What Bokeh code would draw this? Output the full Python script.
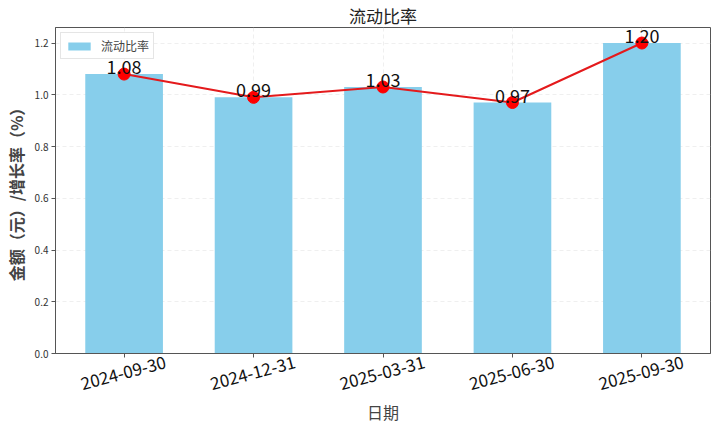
from bokeh.plotting import figure
from bokeh.models import ColumnDataSource, Range1d, FixedTicker, Legend, LegendItem, LinearAxis
from bokeh.core.properties import value
from bokeh.embed import file_html
from bokeh.resources import INLINE

dates = ["2024-09-30", "2024-12-31", "2025-03-31", "2025-06-30", "2025-09-30"]
ratios = [1.08, 0.99, 1.03, 0.97, 1.20]
y_ticks = [0.0, 0.2, 0.4, 0.6, 0.8, 1.0, 1.2]

FONT = "Noto Sans CJK SC"
xs = list(range(len(dates)))
labels = ["%.2f" % v for v in ratios]
src = ColumnDataSource(dict(x=xs, y=ratios, lab=labels))

X0, X1 = -0.53, 4.53
SHIFT = 0.32  # moves the right-anchored rotated date labels so they sit centred under each tick

p = figure(frame_width=655, frame_height=326, output_backend="svg", toolbar_location=None,
           x_range=Range1d(X0, X1), y_range=Range1d(0, 1.26),
           min_border_left=30, min_border_right=4, min_border_top=0, min_border_bottom=4)
p.extra_x_ranges = {"lab": Range1d(X0 - SHIFT, X1 - SHIFT)}

p.title.text = "流动比率"
p.title.align = "center"
p.title.text_font = FONT
p.title.text_font_size = "17px"
p.title.text_font_style = "normal"
p.title.text_color = "#222222"
p.title.standoff = 0
p.title.offset = 0

bars = p.vbar(x="x", top="y", width=0.6, source=src, color="#87CEEB", line_color=None)
p.line(x="x", y="y", source=src, line_color="#e41a1c", line_width=2)
p.scatter(x="x", y="y", source=src, size=12, color="#ff0000", line_color="#ff0000")
p.text(x="x", y="y", text="lab", source=src, text_align="center", text_baseline="bottom",
       text_font=value(FONT), text_font_size="18px", text_color="#111111", y_offset=0)

# main x axis: ticks only
p.xaxis.ticker = FixedTicker(ticks=xs)
p.xaxis.major_label_overrides = {i: " " for i in xs}
p.xaxis.major_label_text_font_size = "1px"
p.xaxis.major_label_standoff = 0
p.xaxis.minor_tick_line_color = None

# date label axis
lab_axis = LinearAxis(x_range_name="lab", ticker=FixedTicker(ticks=xs))
lab_axis.major_label_overrides = {i: d for i, d in enumerate(dates)}
lab_axis.major_label_orientation = 0.26
lab_axis.major_label_text_font = FONT
lab_axis.major_label_text_font_size = "17px"
lab_axis.major_label_text_color = "#111111"
lab_axis.major_label_standoff = 0
lab_axis.axis_line_color = None
lab_axis.major_tick_line_color = None
lab_axis.minor_tick_line_color = None
lab_axis.major_tick_out = 0
lab_axis.axis_label = "日期"
lab_axis.axis_label_text_font = FONT
lab_axis.axis_label_text_font_size = "16px"
lab_axis.axis_label_text_font_style = "normal"
lab_axis.axis_label_standoff = 0
p.add_layout(lab_axis, "below")

p.yaxis.ticker = FixedTicker(ticks=y_ticks)
p.yaxis.major_label_overrides = {t: "%.1f" % t for t in y_ticks}
p.yaxis.major_label_text_font = FONT
p.yaxis.major_label_text_font_size = "10px"
p.yaxis.major_label_text_color = "#333333"
p.yaxis.major_label_standoff = 3
p.yaxis.axis_label = "金额（元）/增长率（%）"
p.yaxis.axis_label_text_font = FONT
p.yaxis.axis_label_text_font_size = "16px"
p.yaxis.axis_label_text_font_style = "bold"
p.yaxis.axis_label_standoff = 4
p.yaxis.minor_tick_line_color = None

for ax in (p.xaxis[0], p.yaxis[0]):
    ax.axis_line_color = "#555555"
    ax.major_tick_line_color = "#555555"
    ax.major_tick_out = 4
    ax.major_tick_in = 0

p.outline_line_color = "#555555"
p.outline_line_alpha = 1
p.xgrid.ticker = FixedTicker(ticks=xs)
p.grid.grid_line_color = "#e4e4e4"
p.grid.grid_line_dash = "4 3"
p.grid.grid_line_alpha = 0.6

legend = Legend(items=[LegendItem(label="流动比率", renderers=[bars])], location="top_left")
legend.label_text_font = FONT
legend.label_text_font_size = "12px"
legend.glyph_width = 28
legend.glyph_height = 10
legend.border_line_color = "#cccccc"
legend.padding = 4
legend.spacing = 0
legend.margin = 5
legend.label_standoff = 8
p.add_layout(legend)

open("out.html", "w").write(file_html(p, INLINE))
